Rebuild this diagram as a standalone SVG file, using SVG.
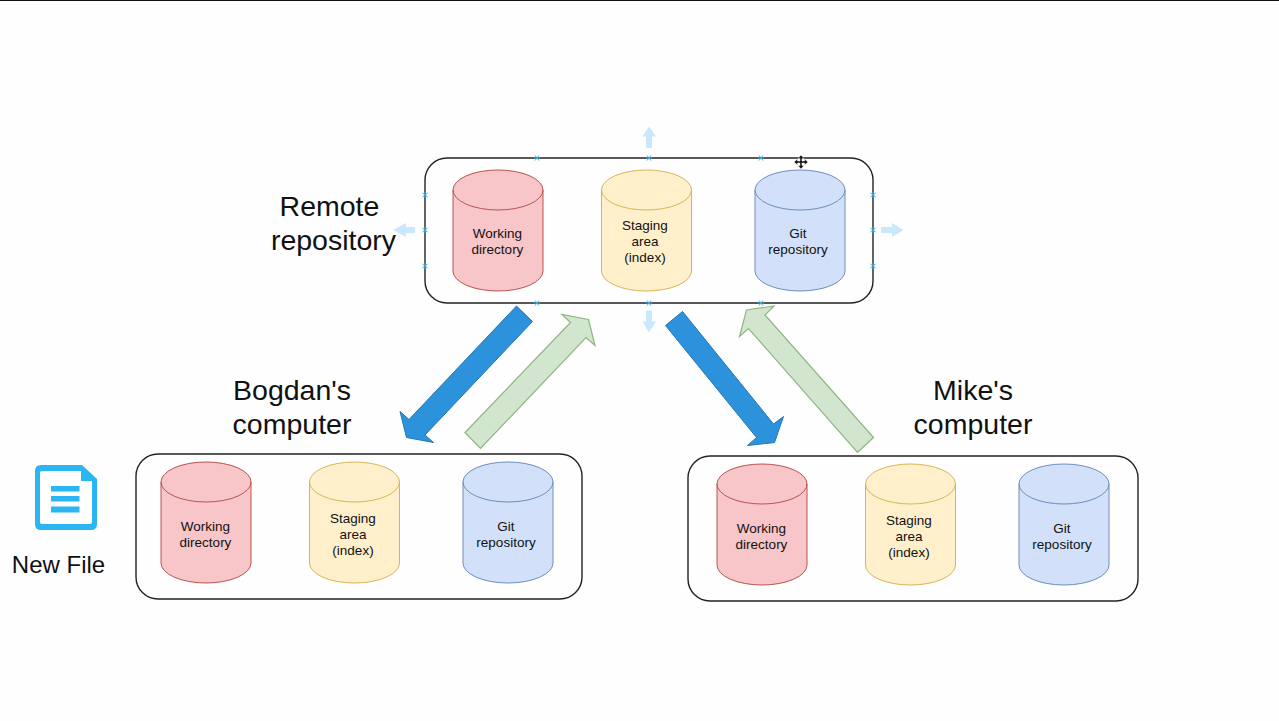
<svg xmlns="http://www.w3.org/2000/svg" width="1279" height="721" viewBox="0 0 1279 721">
<style>
.box{fill:#fefefe;stroke:#222;stroke-width:1.4}
.red{fill:#f8c6c8;stroke:#b85450;stroke-width:1}
.yellow{fill:#fff0cb;stroke:#d6b656;stroke-width:1}
.blue{fill:#d2e1f9;stroke:#6c8ebf;stroke-width:1}
.t{font-family:"Liberation Sans",Arial,sans-serif;font-size:13.500px;fill:#111;text-anchor:middle}
.big{font-family:"Liberation Sans",Arial,sans-serif;font-size:28.500px;fill:#111;text-anchor:middle}
.push{fill:#2d92dc;stroke:#2477b5;stroke-width:1}
.pull{fill:#d2e5cf;stroke:#8db67f;stroke-width:1.2}
.hint{fill:#c9e8fb}
.mark{stroke:#3aa9dc;stroke-width:1;fill:none}
.icon{fill:#29b6f2}
</style>
<defs>
<g id="cyl"><path d="M0 20A45 20 0 0 1 90 20V101A45 20 0 0 1 0 101Z"/><path d="M0 20A45 20 0 0 0 90 20" style="fill:none"/></g>
<path id="m" d="M-2-2.500 2 2.500M2-2.500-2 2.500M-3 0H3"/>
</defs>
<rect width="1279" height="721" fill="#fefefe"/>
<rect width="1279" height="1" fill="#111"/>

<g id="remote-repository">
<rect class="box" x="425" y="158" width="448" height="145" rx="22"/>
<g class="red"><use href="#cyl" x="453" y="170"/></g>
<g class="yellow"><use href="#cyl" x="601.500" y="170"/></g>
<g class="blue"><use href="#cyl" x="755" y="170"/></g>
<text class="t" x="497.500" y="238">Working</text><text class="t" x="497.500" y="254">directory</text>
<text class="t" x="645" y="230">Staging</text><text class="t" x="645" y="246">area</text><text class="t" x="645" y="262">(index)</text>
<text class="t" x="798" y="238">Git</text><text class="t" x="798" y="254">repository</text>
<text class="big" x="329.500" y="216">Remote</text><text class="big" x="333.500" y="250">repository</text>
</g>

<g id="bogdan-computer">
<rect class="box" x="136" y="454" width="446" height="145" rx="22"/>
<g class="red"><use href="#cyl" x="161" y="462"/></g>
<g class="yellow"><use href="#cyl" x="309.500" y="462"/></g>
<g class="blue"><use href="#cyl" x="463" y="462"/></g>
<text class="t" x="205.500" y="531">Working</text><text class="t" x="205.500" y="547">directory</text>
<text class="t" x="353" y="523">Staging</text><text class="t" x="353" y="539">area</text><text class="t" x="353" y="555">(index)</text>
<text class="t" x="506" y="531">Git</text><text class="t" x="506" y="547">repository</text>
<text class="big" x="292" y="400">Bogdan's</text><text class="big" x="292" y="434">computer</text>
</g>

<g id="mike-computer">
<rect class="box" x="688" y="456" width="450" height="145" rx="22"/>
<g class="red"><use href="#cyl" x="717" y="464"/></g>
<g class="yellow"><use href="#cyl" x="865.500" y="464"/></g>
<g class="blue"><use href="#cyl" x="1019" y="464"/></g>
<text class="t" x="761.500" y="533">Working</text><text class="t" x="761.500" y="549">directory</text>
<text class="t" x="909" y="525">Staging</text><text class="t" x="909" y="541">area</text><text class="t" x="909" y="557">(index)</text>
<text class="t" x="1062" y="533">Git</text><text class="t" x="1062" y="549">repository</text>
<text class="big" x="973" y="400">Mike's</text><text class="big" x="973" y="434">computer</text>
</g>

<g id="new-file">
<path class="icon" fill-rule="evenodd" d="M41 465H82L97 479V524Q97 530 91 530H41Q35 530 35 524V471Q35 465 41 465ZM42 471Q40 471 40 473V522Q40 524 42 524H90Q92 524 92 522V481H81V471Z"/>
<path class="icon" d="M51 486H79.500V491.500H51ZM51 496H79.500V501.500H51ZM51 506.500H79.500V512.500H51Z"/>
<text class="big" style="font-size:24px" x="58.500" y="573">New File</text>
</g>

<g id="connectors">
<path class="push" d="M516.500 306 532.500 321.500 425 435 433.500 442.500 406.500 437.500 400 411.500 409 419.500Z"/>
<path class="pull" d="M465 432.500 480.500 448.500 586 337.500 595 345.500 588.500 319.500 562 314.500 570.500 322.500Z"/>
<path class="push" d="M682.500 311.500 665.500 325.500 756.500 437.500 747.500 445.500 774.500 442.500 783.500 416.500 773.500 424Z"/>
<path class="pull" d="M873.500 437.500 857.500 452.500 748.500 328.500 739.500 336.500 746.500 310 774 306 765 315Z"/>
</g>

<g id="selection-hints">
<path class="hint" d="M646 148V136.500H642.500L649 126.500 656 136.500H652V148Z"/>
<path class="hint" d="M646 310.500V321.500H642.500L649 332.500 656 321.500H652V310.500Z"/>
<path class="hint" d="M415 227V233H406V237L393 230 406 223V227Z"/>
<path class="hint" d="M881 227V233H892V237L903.500 230 892 223V227Z"/>
<g class="mark">
<use href="#m" x="537" y="158"/><use href="#m" x="649" y="158"/><use href="#m" x="761" y="158"/>
<use href="#m" x="537" y="303"/><use href="#m" x="649" y="303"/><use href="#m" x="761" y="303"/>
<use href="#m" x="425" y="195" transform="rotate(90 425 195)"/><use href="#m" x="425" y="230" transform="rotate(90 425 230)"/><use href="#m" x="425" y="266" transform="rotate(90 425 266)"/>
<use href="#m" x="873" y="195" transform="rotate(90 873 195)"/><use href="#m" x="873" y="230" transform="rotate(90 873 230)"/><use href="#m" x="873" y="266" transform="rotate(90 873 266)"/>
</g>
<path fill="#111" stroke="#fff" stroke-width=".5" d="M801 155 804 158.500H802V161H804.500V159L808 162 804.500 165V163H802V165.500H804L801 169 798 165.500H800V163H797.500V165L794 162 797.500 159V161H800V158.500H798Z"/>
</g>
</svg>
